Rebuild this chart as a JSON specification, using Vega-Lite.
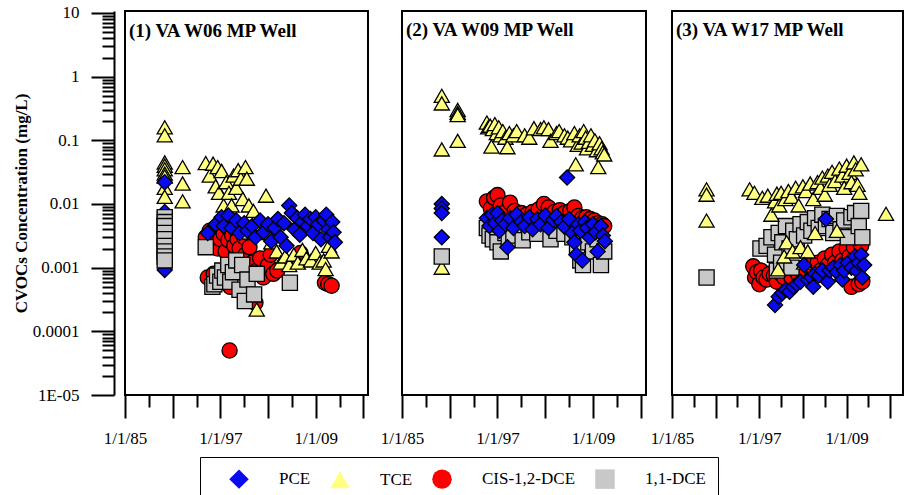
{
  "$schema": "https://vega.github.io/schema/vega-lite/v6.json",
  "background": "white",
  "padding": {"left": 11, "top": 2, "right": 2, "bottom": 2},
  "config": {
    "view": {"stroke": "black", "strokeWidth": 2},
    "font": "Liberation Serif",
    "axis": {"grid": false, "labelColor": "black", "tickColor": "black", "domainColor": "black", "titleColor": "black"}
  },
  "data": {"values": [
    {"well":"W06","compound":"PCE","date":"1990-01-01","conc":0.0075},
    {"well":"W06","compound":"PCE","date":"1990-01-01","conc":0.0025},
    {"well":"W06","compound":"PCE","date":"1990-01-01","conc":0.00092},
    {"well":"W06","compound":"CIS-1,2-DCE","date":"1995-03-01","conc":0.0030},
    {"well":"W06","compound":"CIS-1,2-DCE","date":"1995-06-01","conc":0.0007},
    {"well":"W06","compound":"CIS-1,2-DCE","date":"1995-09-01","conc":0.0038},
    {"well":"W06","compound":"CIS-1,2-DCE","date":"1996-01-01","conc":0.0025},
    {"well":"W06","compound":"CIS-1,2-DCE","date":"1996-03-01","conc":0.0008},
    {"well":"W06","compound":"CIS-1,2-DCE","date":"1996-06-01","conc":0.0035},
    {"well":"W06","compound":"CIS-1,2-DCE","date":"1996-09-01","conc":0.0020},
    {"well":"W06","compound":"CIS-1,2-DCE","date":"1997-01-01","conc":0.0028},
    {"well":"W06","compound":"CIS-1,2-DCE","date":"1997-03-01","conc":0.0006},
    {"well":"W06","compound":"CIS-1,2-DCE","date":"1997-06-01","conc":0.0034},
    {"well":"W06","compound":"CIS-1,2-DCE","date":"1997-09-01","conc":0.0018},
    {"well":"W06","compound":"CIS-1,2-DCE","date":"1998-01-01","conc":0.0027},
    {"well":"W06","compound":"CIS-1,2-DCE","date":"1998-03-01","conc":0.00005},
    {"well":"W06","compound":"CIS-1,2-DCE","date":"1998-04-01","conc":0.0005},
    {"well":"W06","compound":"CIS-1,2-DCE","date":"1998-07-01","conc":0.0032},
    {"well":"W06","compound":"CIS-1,2-DCE","date":"1998-10-01","conc":0.0022},
    {"well":"W06","compound":"CIS-1,2-DCE","date":"1999-01-01","conc":0.0012},
    {"well":"W06","compound":"CIS-1,2-DCE","date":"1999-03-01","conc":0.0028},
    {"well":"W06","compound":"CIS-1,2-DCE","date":"1999-06-01","conc":0.0020},
    {"well":"W06","compound":"CIS-1,2-DCE","date":"1999-09-01","conc":0.0009},
    {"well":"W06","compound":"CIS-1,2-DCE","date":"2000-01-01","conc":0.0030},
    {"well":"W06","compound":"CIS-1,2-DCE","date":"2000-03-01","conc":0.0016},
    {"well":"W06","compound":"CIS-1,2-DCE","date":"2000-06-01","conc":0.0007},
    {"well":"W06","compound":"CIS-1,2-DCE","date":"2000-09-01","conc":0.0021},
    {"well":"W06","compound":"CIS-1,2-DCE","date":"2001-01-01","conc":0.0012},
    {"well":"W06","compound":"CIS-1,2-DCE","date":"2001-06-01","conc":0.00028},
    {"well":"W06","compound":"CIS-1,2-DCE","date":"2001-08-01","conc":0.0009},
    {"well":"W06","compound":"CIS-1,2-DCE","date":"2002-01-01","conc":0.0014},
    {"well":"W06","compound":"CIS-1,2-DCE","date":"2002-06-01","conc":0.0007},
    {"well":"W06","compound":"CIS-1,2-DCE","date":"2003-01-01","conc":0.0011},
    {"well":"W06","compound":"CIS-1,2-DCE","date":"2003-05-01","conc":0.0016},
    {"well":"W06","compound":"CIS-1,2-DCE","date":"2003-09-01","conc":0.0008},
    {"well":"W06","compound":"CIS-1,2-DCE","date":"2004-03-01","conc":0.0009},
    {"well":"W06","compound":"CIS-1,2-DCE","date":"2007-02-01","conc":0.0017},
    {"well":"W06","compound":"CIS-1,2-DCE","date":"2010-03-01","conc":0.00058},
    {"well":"W06","compound":"CIS-1,2-DCE","date":"2010-08-01","conc":0.00055},
    {"well":"W06","compound":"CIS-1,2-DCE","date":"2011-01-01","conc":0.00052},
    {"well":"W06","compound":"1,1-DCE","date":"1990-01-01","conc":0.0062},
    {"well":"W06","compound":"1,1-DCE","date":"1990-01-01","conc":0.0052},
    {"well":"W06","compound":"1,1-DCE","date":"1990-01-01","conc":0.0045},
    {"well":"W06","compound":"1,1-DCE","date":"1990-01-01","conc":0.0035},
    {"well":"W06","compound":"1,1-DCE","date":"1990-01-01","conc":0.0028},
    {"well":"W06","compound":"1,1-DCE","date":"1990-01-01","conc":0.0022},
    {"well":"W06","compound":"1,1-DCE","date":"1990-01-01","conc":0.0018},
    {"well":"W06","compound":"1,1-DCE","date":"1990-01-01","conc":0.0015},
    {"well":"W06","compound":"1,1-DCE","date":"1990-01-01","conc":0.0013},
    {"well":"W06","compound":"1,1-DCE","date":"1995-03-01","conc":0.0021},
    {"well":"W06","compound":"1,1-DCE","date":"1996-01-01","conc":0.0005},
    {"well":"W06","compound":"1,1-DCE","date":"1996-04-01","conc":0.00055},
    {"well":"W06","compound":"1,1-DCE","date":"1996-08-01","conc":0.00075},
    {"well":"W06","compound":"1,1-DCE","date":"1997-01-01","conc":0.0006},
    {"well":"W06","compound":"1,1-DCE","date":"1997-04-01","conc":0.0009},
    {"well":"W06","compound":"1,1-DCE","date":"1997-08-01","conc":0.0007},
    {"well":"W06","compound":"1,1-DCE","date":"1998-01-01","conc":0.0011},
    {"well":"W06","compound":"1,1-DCE","date":"1998-04-01","conc":0.0006},
    {"well":"W06","compound":"1,1-DCE","date":"1998-08-01","conc":0.00085},
    {"well":"W06","compound":"1,1-DCE","date":"1999-01-01","conc":0.0013},
    {"well":"W06","compound":"1,1-DCE","date":"1999-06-01","conc":0.00045},
    {"well":"W06","compound":"1,1-DCE","date":"1999-10-01","conc":0.0011},
    {"well":"W06","compound":"1,1-DCE","date":"2000-02-01","conc":0.0003},
    {"well":"W06","compound":"1,1-DCE","date":"2000-06-01","conc":0.00065},
    {"well":"W06","compound":"1,1-DCE","date":"2000-10-01","conc":0.0037},
    {"well":"W06","compound":"1,1-DCE","date":"2001-04-01","conc":0.00038},
    {"well":"W06","compound":"1,1-DCE","date":"2001-08-01","conc":0.0008},
    {"well":"W06","compound":"1,1-DCE","date":"2005-10-01","conc":0.00058},
    {"well":"W06","compound":"TCE","date":"1990-01-01","conc":0.16},
    {"well":"W06","compound":"TCE","date":"1990-01-01","conc":0.12},
    {"well":"W06","compound":"TCE","date":"1990-01-01","conc":0.045},
    {"well":"W06","compound":"TCE","date":"1990-01-01","conc":0.04},
    {"well":"W06","compound":"TCE","date":"1990-01-01","conc":0.035},
    {"well":"W06","compound":"TCE","date":"1990-01-01","conc":0.03},
    {"well":"W06","compound":"TCE","date":"1990-01-01","conc":0.027},
    {"well":"W06","compound":"TCE","date":"1990-01-01","conc":0.018},
    {"well":"W06","compound":"TCE","date":"1990-01-01","conc":0.013},
    {"well":"W06","compound":"PCE","date":"1990-01-01","conc":0.022},
    {"well":"W06","compound":"TCE","date":"1992-04-01","conc":0.038},
    {"well":"W06","compound":"TCE","date":"1992-04-01","conc":0.021},
    {"well":"W06","compound":"TCE","date":"1992-04-01","conc":0.011},
    {"well":"W06","compound":"TCE","date":"1995-03-01","conc":0.044},
    {"well":"W06","compound":"TCE","date":"1995-09-01","conc":0.028},
    {"well":"W06","compound":"TCE","date":"1996-02-01","conc":0.043},
    {"well":"W06","compound":"TCE","date":"1996-06-01","conc":0.019},
    {"well":"W06","compound":"TCE","date":"1996-09-01","conc":0.038},
    {"well":"W06","compound":"TCE","date":"1996-11-01","conc":0.015},
    {"well":"W06","compound":"TCE","date":"1997-03-01","conc":0.033},
    {"well":"W06","compound":"TCE","date":"1997-06-01","conc":0.0095},
    {"well":"W06","compound":"TCE","date":"1997-10-01","conc":0.022},
    {"well":"W06","compound":"TCE","date":"1998-02-01","conc":0.015},
    {"well":"W06","compound":"TCE","date":"1998-06-01","conc":0.0095},
    {"well":"W06","compound":"TCE","date":"1998-09-01","conc":0.028},
    {"well":"W06","compound":"TCE","date":"1999-01-01","conc":0.018},
    {"well":"W06","compound":"TCE","date":"1999-04-01","conc":0.034},
    {"well":"W06","compound":"TCE","date":"1999-08-01","conc":0.025},
    {"well":"W06","compound":"TCE","date":"1999-11-01","conc":0.012},
    {"well":"W06","compound":"TCE","date":"2000-03-01","conc":0.038},
    {"well":"W06","compound":"TCE","date":"2000-05-01","conc":0.025},
    {"well":"W06","compound":"TCE","date":"2000-08-01","conc":0.0095},
    {"well":"W06","compound":"TCE","date":"2001-03-01","conc":0.0078},
    {"well":"W06","compound":"TCE","date":"2001-08-01","conc":0.00022},
    {"well":"W06","compound":"TCE","date":"2001-06-01","conc":0.0045},
    {"well":"W06","compound":"TCE","date":"2002-10-01","conc":0.0135},
    {"well":"W06","compound":"TCE","date":"2002-04-01","conc":0.0035},
    {"well":"W06","compound":"TCE","date":"2003-06-01","conc":0.0025},
    {"well":"W06","compound":"TCE","date":"2004-02-01","conc":0.0018},
    {"well":"W06","compound":"TCE","date":"2004-08-01","conc":0.0012},
    {"well":"W06","compound":"TCE","date":"2005-03-01","conc":0.0015},
    {"well":"W06","compound":"TCE","date":"2005-09-01","conc":0.0011},
    {"well":"W06","compound":"TCE","date":"2006-04-01","conc":0.0016},
    {"well":"W06","compound":"TCE","date":"2006-10-01","conc":0.0012},
    {"well":"W06","compound":"TCE","date":"2007-05-01","conc":0.0019},
    {"well":"W06","compound":"TCE","date":"2007-11-01","conc":0.0014},
    {"well":"W06","compound":"TCE","date":"2008-06-01","conc":0.0013},
    {"well":"W06","compound":"TCE","date":"2009-01-01","conc":0.0017},
    {"well":"W06","compound":"TCE","date":"2009-07-01","conc":0.0012},
    {"well":"W06","compound":"TCE","date":"2010-01-01","conc":0.0013},
    {"well":"W06","compound":"TCE","date":"2010-04-01","conc":0.00095},
    {"well":"W06","compound":"TCE","date":"2010-09-01","conc":0.0022},
    {"well":"W06","compound":"TCE","date":"2011-01-01","conc":0.0018},
    {"well":"W06","compound":"PCE","date":"1995-06-01","conc":0.0035},
    {"well":"W06","compound":"PCE","date":"1996-06-01","conc":0.0048},
    {"well":"W06","compound":"PCE","date":"1997-03-01","conc":0.0062},
    {"well":"W06","compound":"PCE","date":"1997-06-01","conc":0.0045},
    {"well":"W06","compound":"PCE","date":"1998-01-01","conc":0.0066},
    {"well":"W06","compound":"PCE","date":"1998-06-01","conc":0.0042},
    {"well":"W06","compound":"PCE","date":"1999-01-01","conc":0.0055},
    {"well":"W06","compound":"PCE","date":"1999-06-01","conc":0.0035},
    {"well":"W06","compound":"PCE","date":"2000-01-01","conc":0.0050},
    {"well":"W06","compound":"PCE","date":"2000-06-01","conc":0.0038},
    {"well":"W06","compound":"PCE","date":"2001-01-01","conc":0.0045},
    {"well":"W06","compound":"PCE","date":"2001-06-01","conc":0.0030},
    {"well":"W06","compound":"PCE","date":"2002-01-01","conc":0.0055},
    {"well":"W06","compound":"PCE","date":"2002-06-01","conc":0.0036},
    {"well":"W06","compound":"PCE","date":"2003-01-01","conc":0.0048},
    {"well":"W06","compound":"PCE","date":"2003-06-01","conc":0.0026},
    {"well":"W06","compound":"PCE","date":"2003-11-01","conc":0.0042},
    {"well":"W06","compound":"PCE","date":"2004-04-01","conc":0.0058},
    {"well":"W06","compound":"PCE","date":"2004-08-01","conc":0.0030},
    {"well":"W06","compound":"PCE","date":"2005-01-01","conc":0.0050},
    {"well":"W06","compound":"PCE","date":"2005-05-01","conc":0.0022},
    {"well":"W06","compound":"PCE","date":"2005-09-01","conc":0.0095},
    {"well":"W06","compound":"PCE","date":"2006-01-01","conc":0.0072},
    {"well":"W06","compound":"PCE","date":"2006-05-01","conc":0.0040},
    {"well":"W06","compound":"PCE","date":"2006-09-01","conc":0.0060},
    {"well":"W06","compound":"PCE","date":"2007-01-01","conc":0.0033},
    {"well":"W06","compound":"PCE","date":"2007-05-01","conc":0.0052},
    {"well":"W06","compound":"PCE","date":"2007-09-01","conc":0.0068},
    {"well":"W06","compound":"PCE","date":"2008-01-01","conc":0.0045},
    {"well":"W06","compound":"PCE","date":"2008-05-01","conc":0.0058},
    {"well":"W06","compound":"PCE","date":"2008-09-01","conc":0.0035},
    {"well":"W06","compound":"PCE","date":"2009-01-01","conc":0.0062},
    {"well":"W06","compound":"PCE","date":"2009-05-01","conc":0.0048},
    {"well":"W06","compound":"PCE","date":"2009-09-01","conc":0.0028},
    {"well":"W06","compound":"PCE","date":"2010-01-01","conc":0.0055},
    {"well":"W06","compound":"PCE","date":"2010-05-01","conc":0.0068},
    {"well":"W06","compound":"PCE","date":"2010-08-01","conc":0.0040},
    {"well":"W06","compound":"PCE","date":"2010-11-01","conc":0.0030},
    {"well":"W06","compound":"PCE","date":"2011-02-01","conc":0.0052},
    {"well":"W06","compound":"PCE","date":"2011-04-01","conc":0.0036},
    {"well":"W06","compound":"PCE","date":"2011-06-01","conc":0.0025},

    {"well":"W09","compound":"CIS-1,2-DCE","date":"1995-09-01","conc":0.0110},
    {"well":"W09","compound":"CIS-1,2-DCE","date":"1996-03-01","conc":0.0085},
    {"well":"W09","compound":"CIS-1,2-DCE","date":"1996-08-01","conc":0.0125},
    {"well":"W09","compound":"CIS-1,2-DCE","date":"1997-01-01","conc":0.0138},
    {"well":"W09","compound":"CIS-1,2-DCE","date":"1997-06-01","conc":0.0095},
    {"well":"W09","compound":"CIS-1,2-DCE","date":"1998-01-01","conc":0.0075},
    {"well":"W09","compound":"CIS-1,2-DCE","date":"1998-08-01","conc":0.0105},
    {"well":"W09","compound":"CIS-1,2-DCE","date":"1999-03-01","conc":0.0078},
    {"well":"W09","compound":"CIS-1,2-DCE","date":"2000-01-01","conc":0.0072},
    {"well":"W09","compound":"CIS-1,2-DCE","date":"2000-09-01","conc":0.0068},
    {"well":"W09","compound":"CIS-1,2-DCE","date":"2001-06-01","conc":0.0075},
    {"well":"W09","compound":"CIS-1,2-DCE","date":"2002-03-01","conc":0.0082},
    {"well":"W09","compound":"CIS-1,2-DCE","date":"2002-11-01","conc":0.0100},
    {"well":"W09","compound":"CIS-1,2-DCE","date":"2003-06-01","conc":0.0088},
    {"well":"W09","compound":"CIS-1,2-DCE","date":"2004-03-01","conc":0.0075},
    {"well":"W09","compound":"CIS-1,2-DCE","date":"2004-11-01","conc":0.0080},
    {"well":"W09","compound":"CIS-1,2-DCE","date":"2005-06-01","conc":0.0072},
    {"well":"W09","compound":"CIS-1,2-DCE","date":"2006-03-01","conc":0.0078},
    {"well":"W09","compound":"CIS-1,2-DCE","date":"2006-09-01","conc":0.0088},
    {"well":"W09","compound":"CIS-1,2-DCE","date":"2007-03-01","conc":0.0065},
    {"well":"W09","compound":"CIS-1,2-DCE","date":"2007-09-01","conc":0.0060},
    {"well":"W09","compound":"CIS-1,2-DCE","date":"2008-03-01","conc":0.0062},
    {"well":"W09","compound":"CIS-1,2-DCE","date":"2008-09-01","conc":0.0058},
    {"well":"W09","compound":"CIS-1,2-DCE","date":"2009-03-01","conc":0.0055},
    {"well":"W09","compound":"CIS-1,2-DCE","date":"2009-09-01","conc":0.0050},
    {"well":"W09","compound":"CIS-1,2-DCE","date":"2010-03-01","conc":0.0048},
    {"well":"W09","compound":"CIS-1,2-DCE","date":"2010-06-01","conc":0.0045},
    {"well":"W09","compound":"1,1-DCE","date":"1995-09-01","conc":0.0042},
    {"well":"W09","compound":"1,1-DCE","date":"1996-01-01","conc":0.0032},
    {"well":"W09","compound":"1,1-DCE","date":"1996-06-01","conc":0.0028},
    {"well":"W09","compound":"1,1-DCE","date":"1997-01-01","conc":0.0025},
    {"well":"W09","compound":"1,1-DCE","date":"1997-06-01","conc":0.0018},
    {"well":"W09","compound":"1,1-DCE","date":"1998-01-01","conc":0.0035},
    {"well":"W09","compound":"1,1-DCE","date":"1998-06-01","conc":0.0028},
    {"well":"W09","compound":"1,1-DCE","date":"1999-01-01","conc":0.0032},
    {"well":"W09","compound":"1,1-DCE","date":"2000-03-01","conc":0.0027},
    {"well":"W09","compound":"1,1-DCE","date":"2001-01-01","conc":0.0036},
    {"well":"W09","compound":"1,1-DCE","date":"2002-01-01","conc":0.0034},
    {"well":"W09","compound":"1,1-DCE","date":"2003-09-01","conc":0.0028},
    {"well":"W09","compound":"1,1-DCE","date":"2004-06-01","conc":0.0038},
    {"well":"W09","compound":"1,1-DCE","date":"2005-06-01","conc":0.0034},
    {"well":"W09","compound":"1,1-DCE","date":"2006-06-01","conc":0.0030},
    {"well":"W09","compound":"1,1-DCE","date":"2007-01-01","conc":0.0022},
    {"well":"W09","compound":"1,1-DCE","date":"2007-06-01","conc":0.0013},
    {"well":"W09","compound":"1,1-DCE","date":"2007-10-01","conc":0.0011},
    {"well":"W09","compound":"1,1-DCE","date":"2008-06-01","conc":0.0025},
    {"well":"W09","compound":"1,1-DCE","date":"2009-01-01","conc":0.0018},
    {"well":"W09","compound":"1,1-DCE","date":"2009-08-01","conc":0.0028},
    {"well":"W09","compound":"1,1-DCE","date":"2010-01-01","conc":0.0011},
    {"well":"W09","compound":"1,1-DCE","date":"2010-06-01","conc":0.0018},
    {"well":"W09","compound":"TCE","date":"1990-01-01","conc":0.5},
    {"well":"W09","compound":"TCE","date":"1990-01-01","conc":0.38},
    {"well":"W09","compound":"TCE","date":"1990-01-01","conc":0.072},
    {"well":"W09","compound":"TCE","date":"1990-01-01","conc":0.001},
    {"well":"W09","compound":"1,1-DCE","date":"1990-01-01","conc":0.0015},
    {"well":"W09","compound":"TCE","date":"1992-01-01","conc":0.30},
    {"well":"W09","compound":"TCE","date":"1992-01-01","conc":0.27},
    {"well":"W09","compound":"TCE","date":"1992-01-01","conc":0.25},
    {"well":"W09","compound":"TCE","date":"1992-01-01","conc":0.098},
    {"well":"W09","compound":"TCE","date":"1995-09-01","conc":0.19},
    {"well":"W09","compound":"TCE","date":"1995-11-01","conc":0.16},
    {"well":"W09","compound":"TCE","date":"1996-02-01","conc":0.17},
    {"well":"W09","compound":"TCE","date":"1996-04-01","conc":0.08},
    {"well":"W09","compound":"TCE","date":"1996-06-01","conc":0.15},
    {"well":"W09","compound":"TCE","date":"1996-09-01","conc":0.18},
    {"well":"W09","compound":"TCE","date":"1996-12-01","conc":0.13},
    {"well":"W09","compound":"TCE","date":"1997-03-01","conc":0.16},
    {"well":"W09","compound":"TCE","date":"1997-06-01","conc":0.12},
    {"well":"W09","compound":"TCE","date":"1997-09-01","conc":0.14},
    {"well":"W09","compound":"TCE","date":"1998-01-01","conc":0.11},
    {"well":"W09","compound":"TCE","date":"1998-04-01","conc":0.078},
    {"well":"W09","compound":"TCE","date":"1998-07-01","conc":0.13},
    {"well":"W09","compound":"TCE","date":"1999-01-01","conc":0.12},
    {"well":"W09","compound":"TCE","date":"1999-06-01","conc":0.14},
    {"well":"W09","compound":"TCE","date":"2000-06-01","conc":0.12},
    {"well":"W09","compound":"TCE","date":"2001-01-01","conc":0.11},
    {"well":"W09","compound":"TCE","date":"2001-08-01","conc":0.155},
    {"well":"W09","compound":"TCE","date":"2002-06-01","conc":0.15},
    {"well":"W09","compound":"TCE","date":"2002-11-01","conc":0.16},
    {"well":"W09","compound":"TCE","date":"2003-06-01","conc":0.15},
    {"well":"W09","compound":"TCE","date":"2003-09-01","conc":0.098},
    {"well":"W09","compound":"TCE","date":"2004-06-01","conc":0.13},
    {"well":"W09","compound":"TCE","date":"2004-10-01","conc":0.14},
    {"well":"W09","compound":"TCE","date":"2005-06-01","conc":0.12},
    {"well":"W09","compound":"TCE","date":"2005-11-01","conc":0.11},
    {"well":"W09","compound":"TCE","date":"2006-04-01","conc":0.10},
    {"well":"W09","compound":"TCE","date":"2006-09-01","conc":0.13},
    {"well":"W09","compound":"TCE","date":"2006-11-01","conc":0.042},
    {"well":"W09","compound":"TCE","date":"2007-02-01","conc":0.085},
    {"well":"W09","compound":"TCE","date":"2007-05-01","conc":0.12},
    {"well":"W09","compound":"TCE","date":"2007-08-01","conc":0.092},
    {"well":"W09","compound":"TCE","date":"2007-11-01","conc":0.14},
    {"well":"W09","compound":"TCE","date":"2008-02-01","conc":0.11},
    {"well":"W09","compound":"TCE","date":"2008-04-01","conc":0.075},
    {"well":"W09","compound":"TCE","date":"2008-07-01","conc":0.095},
    {"well":"W09","compound":"TCE","date":"2008-10-01","conc":0.12},
    {"well":"W09","compound":"TCE","date":"2009-01-01","conc":0.085},
    {"well":"W09","compound":"TCE","date":"2009-04-01","conc":0.10},
    {"well":"W09","compound":"TCE","date":"2009-07-01","conc":0.07},
    {"well":"W09","compound":"TCE","date":"2009-09-01","conc":0.038},
    {"well":"W09","compound":"TCE","date":"2009-11-01","conc":0.09},
    {"well":"W09","compound":"TCE","date":"2010-02-01","conc":0.075},
    {"well":"W09","compound":"TCE","date":"2010-04-01","conc":0.065},
    {"well":"W09","compound":"TCE","date":"2010-06-01","conc":0.06},
    {"well":"W09","compound":"PCE","date":"1990-01-01","conc":0.010},
    {"well":"W09","compound":"PCE","date":"1990-01-01","conc":0.0085},
    {"well":"W09","compound":"PCE","date":"1990-01-01","conc":0.0072},
    {"well":"W09","compound":"PCE","date":"1990-01-01","conc":0.003},
    {"well":"W09","compound":"PCE","date":"2005-10-01","conc":0.026},
    {"well":"W09","compound":"PCE","date":"1995-09-01","conc":0.0060},
    {"well":"W09","compound":"PCE","date":"1996-01-01","conc":0.0045},
    {"well":"W09","compound":"PCE","date":"1996-05-01","conc":0.0068},
    {"well":"W09","compound":"PCE","date":"1996-09-01","conc":0.0050},
    {"well":"W09","compound":"PCE","date":"1997-01-01","conc":0.0072},
    {"well":"W09","compound":"PCE","date":"1997-04-01","conc":0.0038},
    {"well":"W09","compound":"PCE","date":"1997-08-01","conc":0.0055},
    {"well":"W09","compound":"PCE","date":"1998-01-01","conc":0.0048},
    {"well":"W09","compound":"PCE","date":"1998-04-01","conc":0.0021},
    {"well":"W09","compound":"PCE","date":"1998-08-01","conc":0.0060},
    {"well":"W09","compound":"PCE","date":"1999-01-01","conc":0.0042},
    {"well":"W09","compound":"PCE","date":"1999-06-01","conc":0.0068},
    {"well":"W09","compound":"PCE","date":"2000-01-01","conc":0.0052},
    {"well":"W09","compound":"PCE","date":"2000-06-01","conc":0.0045},
    {"well":"W09","compound":"PCE","date":"2001-01-01","conc":0.0062},
    {"well":"W09","compound":"PCE","date":"2001-06-01","conc":0.0040},
    {"well":"W09","compound":"PCE","date":"2002-01-01","conc":0.0058},
    {"well":"W09","compound":"PCE","date":"2002-06-01","conc":0.0048},
    {"well":"W09","compound":"PCE","date":"2003-01-01","conc":0.0066},
    {"well":"W09","compound":"PCE","date":"2003-06-01","conc":0.0042},
    {"well":"W09","compound":"PCE","date":"2004-01-01","conc":0.0056},
    {"well":"W09","compound":"PCE","date":"2004-06-01","conc":0.0065},
    {"well":"W09","compound":"PCE","date":"2005-01-01","conc":0.0052},
    {"well":"W09","compound":"PCE","date":"2005-06-01","conc":0.0044},
    {"well":"W09","compound":"PCE","date":"2006-01-01","conc":0.0058},
    {"well":"W09","compound":"PCE","date":"2006-06-01","conc":0.0035},
    {"well":"W09","compound":"PCE","date":"2006-09-01","conc":0.0025},
    {"well":"W09","compound":"PCE","date":"2006-12-01","conc":0.0016},
    {"well":"W09","compound":"PCE","date":"2007-03-01","conc":0.0048},
    {"well":"W09","compound":"PCE","date":"2007-06-01","conc":0.0038},
    {"well":"W09","compound":"PCE","date":"2007-09-01","conc":0.0013},
    {"well":"W09","compound":"PCE","date":"2008-01-01","conc":0.0052},
    {"well":"W09","compound":"PCE","date":"2008-04-01","conc":0.0042},
    {"well":"W09","compound":"PCE","date":"2008-08-01","conc":0.0030},
    {"well":"W09","compound":"PCE","date":"2009-01-01","conc":0.0048},
    {"well":"W09","compound":"PCE","date":"2009-05-01","conc":0.0036},
    {"well":"W09","compound":"PCE","date":"2009-08-01","conc":0.0018},
    {"well":"W09","compound":"PCE","date":"2010-01-01","conc":0.0045},
    {"well":"W09","compound":"PCE","date":"2010-04-01","conc":0.0032},
    {"well":"W09","compound":"PCE","date":"2010-07-01","conc":0.0026},

    {"well":"W17","compound":"CIS-1,2-DCE","date":"1996-03-01","conc":0.00105},
    {"well":"W17","compound":"CIS-1,2-DCE","date":"1996-06-01","conc":0.0007},
    {"well":"W17","compound":"CIS-1,2-DCE","date":"1996-09-01","conc":0.00085},
    {"well":"W17","compound":"CIS-1,2-DCE","date":"1997-01-01","conc":0.00055},
    {"well":"W17","compound":"CIS-1,2-DCE","date":"1997-04-01","conc":0.0009},
    {"well":"W17","compound":"CIS-1,2-DCE","date":"1997-08-01","conc":0.0007},
    {"well":"W17","compound":"CIS-1,2-DCE","date":"1998-01-01","conc":0.00065},
    {"well":"W17","compound":"CIS-1,2-DCE","date":"1998-06-01","conc":0.0008},
    {"well":"W17","compound":"CIS-1,2-DCE","date":"1999-01-01","conc":0.00075},
    {"well":"W17","compound":"CIS-1,2-DCE","date":"1999-06-01","conc":0.0006},
    {"well":"W17","compound":"CIS-1,2-DCE","date":"2000-01-01","conc":0.0008},
    {"well":"W17","compound":"CIS-1,2-DCE","date":"2000-06-01","conc":0.0007},
    {"well":"W17","compound":"CIS-1,2-DCE","date":"2001-01-01","conc":0.00085},
    {"well":"W17","compound":"CIS-1,2-DCE","date":"2001-06-01","conc":0.0007},
    {"well":"W17","compound":"CIS-1,2-DCE","date":"2002-01-01","conc":0.0009},
    {"well":"W17","compound":"CIS-1,2-DCE","date":"2002-06-01","conc":0.00075},
    {"well":"W17","compound":"CIS-1,2-DCE","date":"2003-01-01","conc":0.0010},
    {"well":"W17","compound":"CIS-1,2-DCE","date":"2003-06-01","conc":0.0008},
    {"well":"W17","compound":"CIS-1,2-DCE","date":"2004-01-01","conc":0.0011},
    {"well":"W17","compound":"CIS-1,2-DCE","date":"2004-06-01","conc":0.0009},
    {"well":"W17","compound":"CIS-1,2-DCE","date":"2005-01-01","conc":0.0012},
    {"well":"W17","compound":"CIS-1,2-DCE","date":"2005-06-01","conc":0.0009},
    {"well":"W17","compound":"CIS-1,2-DCE","date":"2006-01-01","conc":0.0014},
    {"well":"W17","compound":"CIS-1,2-DCE","date":"2006-06-01","conc":0.0011},
    {"well":"W17","compound":"CIS-1,2-DCE","date":"2007-01-01","conc":0.0016},
    {"well":"W17","compound":"CIS-1,2-DCE","date":"2007-06-01","conc":0.0012},
    {"well":"W17","compound":"CIS-1,2-DCE","date":"2008-01-01","conc":0.0018},
    {"well":"W17","compound":"CIS-1,2-DCE","date":"2008-06-01","conc":0.0013},
    {"well":"W17","compound":"CIS-1,2-DCE","date":"2009-01-01","conc":0.0020},
    {"well":"W17","compound":"CIS-1,2-DCE","date":"2009-06-01","conc":0.0015},
    {"well":"W17","compound":"CIS-1,2-DCE","date":"2009-09-01","conc":0.0005},
    {"well":"W17","compound":"CIS-1,2-DCE","date":"2010-01-01","conc":0.0021},
    {"well":"W17","compound":"CIS-1,2-DCE","date":"2010-06-01","conc":0.0012},
    {"well":"W17","compound":"CIS-1,2-DCE","date":"2010-09-01","conc":0.00055},
    {"well":"W17","compound":"CIS-1,2-DCE","date":"2011-01-01","conc":0.0022},
    {"well":"W17","compound":"CIS-1,2-DCE","date":"2011-03-01","conc":0.0006},
    {"well":"W17","compound":"1,1-DCE","date":"1989-10-01","conc":0.0007},
    {"well":"W17","compound":"1,1-DCE","date":"1997-03-01","conc":0.0020},
    {"well":"W17","compound":"1,1-DCE","date":"1998-01-01","conc":0.0022},
    {"well":"W17","compound":"1,1-DCE","date":"1998-09-01","conc":0.0030},
    {"well":"W17","compound":"1,1-DCE","date":"1999-03-01","conc":0.0016},
    {"well":"W17","compound":"1,1-DCE","date":"1999-06-01","conc":0.0009},
    {"well":"W17","compound":"1,1-DCE","date":"1999-09-01","conc":0.0035},
    {"well":"W17","compound":"1,1-DCE","date":"2000-01-01","conc":0.0012},
    {"well":"W17","compound":"1,1-DCE","date":"2000-03-01","conc":0.0025},
    {"well":"W17","compound":"1,1-DCE","date":"2000-09-01","conc":0.0045},
    {"well":"W17","compound":"1,1-DCE","date":"2001-03-01","conc":0.0020},
    {"well":"W17","compound":"1,1-DCE","date":"2001-06-01","conc":0.0010},
    {"well":"W17","compound":"1,1-DCE","date":"2001-09-01","conc":0.0038},
    {"well":"W17","compound":"1,1-DCE","date":"2002-03-01","conc":0.0028},
    {"well":"W17","compound":"1,1-DCE","date":"2002-09-01","conc":0.0048},
    {"well":"W17","compound":"1,1-DCE","date":"2003-03-01","conc":0.0032},
    {"well":"W17","compound":"1,1-DCE","date":"2003-09-01","conc":0.0052},
    {"well":"W17","compound":"1,1-DCE","date":"2004-03-01","conc":0.0038},
    {"well":"W17","compound":"1,1-DCE","date":"2004-09-01","conc":0.0060},
    {"well":"W17","compound":"1,1-DCE","date":"2005-03-01","conc":0.0042},
    {"well":"W17","compound":"1,1-DCE","date":"2005-09-01","conc":0.0068},
    {"well":"W17","compound":"1,1-DCE","date":"2006-03-01","conc":0.0045},
    {"well":"W17","compound":"1,1-DCE","date":"2006-09-01","conc":0.0058},
    {"well":"W17","compound":"1,1-DCE","date":"2007-03-01","conc":0.0035},
    {"well":"W17","compound":"1,1-DCE","date":"2007-09-01","conc":0.0065},
    {"well":"W17","compound":"1,1-DCE","date":"2008-03-01","conc":0.0040},
    {"well":"W17","compound":"1,1-DCE","date":"2008-09-01","conc":0.0055},
    {"well":"W17","compound":"1,1-DCE","date":"2009-03-01","conc":0.0030},
    {"well":"W17","compound":"1,1-DCE","date":"2009-09-01","conc":0.0062},
    {"well":"W17","compound":"1,1-DCE","date":"2010-03-01","conc":0.0072},
    {"well":"W17","compound":"1,1-DCE","date":"2010-09-01","conc":0.0045},
    {"well":"W17","compound":"1,1-DCE","date":"2011-01-01","conc":0.0078},
    {"well":"W17","compound":"1,1-DCE","date":"2011-03-01","conc":0.0030},
    {"well":"W17","compound":"TCE","date":"1989-10-01","conc":0.017},
    {"well":"W17","compound":"TCE","date":"1989-10-01","conc":0.014},
    {"well":"W17","compound":"TCE","date":"1989-10-01","conc":0.0055},
    {"well":"W17","compound":"TCE","date":"1995-09-01","conc":0.017},
    {"well":"W17","compound":"TCE","date":"1996-05-01","conc":0.015},
    {"well":"W17","compound":"TCE","date":"1997-06-01","conc":0.0125},
    {"well":"W17","compound":"TCE","date":"1998-03-01","conc":0.0135},
    {"well":"W17","compound":"TCE","date":"1998-09-01","conc":0.0068},
    {"well":"W17","compound":"TCE","date":"1999-03-01","conc":0.011},
    {"well":"W17","compound":"TCE","date":"1999-06-01","conc":0.0145},
    {"well":"W17","compound":"TCE","date":"1999-08-01","conc":0.00094},
    {"well":"W17","compound":"TCE","date":"1999-10-01","conc":0.0095},
    {"well":"W17","compound":"TCE","date":"2000-01-01","conc":0.015},
    {"well":"W17","compound":"TCE","date":"2000-06-01","conc":0.0015},
    {"well":"W17","compound":"TCE","date":"2000-08-01","conc":0.012},
    {"well":"W17","compound":"TCE","date":"2000-10-01","conc":0.0025},
    {"well":"W17","compound":"TCE","date":"2001-01-01","conc":0.016},
    {"well":"W17","compound":"TCE","date":"2001-06-01","conc":0.013},
    {"well":"W17","compound":"TCE","date":"2001-08-01","conc":0.0018},
    {"well":"W17","compound":"TCE","date":"2002-01-01","conc":0.018},
    {"well":"W17","compound":"TCE","date":"2002-06-01","conc":0.0095},
    {"well":"W17","compound":"TCE","date":"2002-09-01","conc":0.0021},
    {"well":"W17","compound":"TCE","date":"2003-01-01","conc":0.019},
    {"well":"W17","compound":"TCE","date":"2003-03-01","conc":0.0012},
    {"well":"W17","compound":"TCE","date":"2003-06-01","conc":0.016},
    {"well":"W17","compound":"TCE","date":"2003-09-01","conc":0.0018},
    {"well":"W17","compound":"TCE","date":"2004-01-01","conc":0.021},
    {"well":"W17","compound":"TCE","date":"2004-06-01","conc":0.012},
    {"well":"W17","compound":"TCE","date":"2004-09-01","conc":0.0035},
    {"well":"W17","compound":"TCE","date":"2005-01-01","conc":0.022},
    {"well":"W17","compound":"TCE","date":"2005-06-01","conc":0.018},
    {"well":"W17","compound":"TCE","date":"2005-09-01","conc":0.026},
    {"well":"W17","compound":"TCE","date":"2006-01-01","conc":0.014},
    {"well":"W17","compound":"TCE","date":"2006-06-01","conc":0.028},
    {"well":"W17","compound":"TCE","date":"2006-09-01","conc":0.020},
    {"well":"W17","compound":"TCE","date":"2007-01-01","conc":0.032},
    {"well":"W17","compound":"TCE","date":"2007-06-01","conc":0.023},
    {"well":"W17","compound":"TCE","date":"2007-09-01","conc":0.0038},
    {"well":"W17","compound":"TCE","date":"2008-01-01","conc":0.036},
    {"well":"W17","compound":"TCE","date":"2008-06-01","conc":0.028},
    {"well":"W17","compound":"TCE","date":"2008-09-01","conc":0.018},
    {"well":"W17","compound":"TCE","date":"2009-01-01","conc":0.040},
    {"well":"W17","compound":"TCE","date":"2009-06-01","conc":0.031},
    {"well":"W17","compound":"TCE","date":"2009-09-01","conc":0.022},
    {"well":"W17","compound":"TCE","date":"2010-01-01","conc":0.045},
    {"well":"W17","compound":"TCE","date":"2010-04-01","conc":0.035},
    {"well":"W17","compound":"TCE","date":"2010-07-01","conc":0.020},
    {"well":"W17","compound":"TCE","date":"2010-10-01","conc":0.015},
    {"well":"W17","compound":"TCE","date":"2011-01-01","conc":0.042},
    {"well":"W17","compound":"TCE","date":"2014-06-01","conc":0.0070},
    {"well":"W17","compound":"PCE","date":"2006-03-01","conc":0.0058},
    {"well":"W17","compound":"PCE","date":"1999-03-01","conc":0.00026},
    {"well":"W17","compound":"PCE","date":"1999-09-01","conc":0.00035},
    {"well":"W17","compound":"PCE","date":"2000-03-01","conc":0.00040},
    {"well":"W17","compound":"PCE","date":"2000-09-01","conc":0.00045},
    {"well":"W17","compound":"PCE","date":"2001-03-01","conc":0.00042},
    {"well":"W17","compound":"PCE","date":"2001-09-01","conc":0.00050},
    {"well":"W17","compound":"PCE","date":"2002-03-01","conc":0.00055},
    {"well":"W17","compound":"PCE","date":"2002-09-01","conc":0.00060},
    {"well":"W17","compound":"PCE","date":"2003-03-01","conc":0.0011},
    {"well":"W17","compound":"PCE","date":"2003-09-01","conc":0.00065},
    {"well":"W17","compound":"PCE","date":"2004-03-01","conc":0.00070},
    {"well":"W17","compound":"PCE","date":"2004-06-01","conc":0.00050},
    {"well":"W17","compound":"PCE","date":"2004-09-01","conc":0.00080},
    {"well":"W17","compound":"PCE","date":"2005-03-01","conc":0.00075},
    {"well":"W17","compound":"PCE","date":"2005-09-01","conc":0.00090},
    {"well":"W17","compound":"PCE","date":"2006-06-01","conc":0.00060},
    {"well":"W17","compound":"PCE","date":"2006-09-01","conc":0.00090},
    {"well":"W17","compound":"PCE","date":"2007-03-01","conc":0.0010},
    {"well":"W17","compound":"PCE","date":"2007-09-01","conc":0.00085},
    {"well":"W17","compound":"PCE","date":"2008-03-01","conc":0.0011},
    {"well":"W17","compound":"PCE","date":"2008-06-01","conc":0.00065},
    {"well":"W17","compound":"PCE","date":"2008-09-01","conc":0.0009},
    {"well":"W17","compound":"PCE","date":"2009-03-01","conc":0.0012},
    {"well":"W17","compound":"PCE","date":"2009-09-01","conc":0.0010},
    {"well":"W17","compound":"PCE","date":"2010-03-01","conc":0.0015},
    {"well":"W17","compound":"PCE","date":"2010-06-01","conc":0.0009},
    {"well":"W17","compound":"PCE","date":"2010-09-01","conc":0.0012},
    {"well":"W17","compound":"PCE","date":"2011-01-01","conc":0.0016},
    {"well":"W17","compound":"PCE","date":"2011-03-01","conc":0.0007},
    {"well":"W17","compound":"PCE","date":"2011-06-01","conc":0.0011}
  ]},
  "bounds": "flush",
  "spacing": 34,
  "hconcat": [
    {
      "width": 243, "height": 384,
      "title": {"text": "(1) VA W06 MP Well", "anchor": "start", "frame": "group", "offset": -37, "dx": 4, "font": "Liberation Serif", "fontSize": 19, "fontWeight": "bold", "color": "black"},
      "transform": [{"filter": "datum.well == 'W06'"}],
      "mark": {"type": "point", "filled": true, "stroke": "black", "strokeWidth": 1.3, "size": 230, "opacity": 1},
      "encoding": {
        "x": {"field": "date", "type": "temporal", "title": null,
          "scale": {"domain": [{"year": 1985, "month": 1, "date": 1}, {"year": 2015, "month": 8, "date": 1}], "nice": false},
          "axis": {"values": [{"year":1985,"month":1,"date":1},{"year":1988,"month":1,"date":1},{"year":1991,"month":1,"date":1},{"year":1994,"month":1,"date":1},{"year":1997,"month":1,"date":1},{"year":2000,"month":1,"date":1},{"year":2003,"month":1,"date":1},{"year":2006,"month":1,"date":1},{"year":2009,"month":1,"date":1},{"year":2012,"month":1,"date":1},{"year":2015,"month":1,"date":1}],
            "domain": false, "tickWidth": 2, "tickColor": "black",
            "tickSize": {"condition": {"test": "year(datum.value) % 6 == 5", "value": 23}, "value": 12},
            "labelExpr": "year(datum.value) % 12 == 5 ? timeFormat(datum.value, '1/1/%y') : ''",
            "labelFont": "Liberation Serif", "labelFontSize": 17, "labelColor": "black", "labelPadding": 12, "labelFlush": false, "labelOverlap": false}},
        "y": {"field": "conc", "type": "quantitative",
          "scale": {"type": "log", "domain": [0.00001, 10.75], "nice": false},
          "axis": {"title": "CVOCs Concentration (mg/L)", "titleFont": "Liberation Serif", "titleFontSize": 17, "titleFontWeight": "bold", "titleColor": "black", "titlePadding": 2,
            "values": [10,9,8,7,6,5,4,3,2,1,0.9,0.8,0.7,0.6,0.5,0.4,0.3,0.2,0.1,0.09,0.08,0.07,0.06,0.05,0.04,0.03,0.02,0.01,0.009,0.008,0.007,0.006,0.005,0.004,0.003,0.002,0.001,0.0009,0.0008,0.0007,0.0006,0.0005,0.0004,0.0003,0.0002,0.0001,0.00009,0.00008,0.00007,0.00006,0.00005,0.00004,0.00003,0.00002,0.00001],
            "tickSize": {"condition": {"test": "indexof([10,1,0.1,0.01,0.001,0.0001,0.00001], datum.value) >= 0", "value": 23}, "value": 12},
            "labelExpr": "datum.value == 0.00001 ? '1E-05' : (indexof([10,1,0.1,0.01,0.001,0.0001], datum.value) >= 0 ? toString(datum.value) : '')",
            "offset": 11, "domain": true, "domainWidth": 2, "domainColor": "black", "tickWidth": 2, "tickColor": "black",
            "labelFont": "Liberation Serif", "labelFontSize": 17, "labelColor": "black", "labelPadding": 12, "labelOverlap": false, "labelFlush": false}},
        "shape": {"field": "compound", "type": "nominal",
          "scale": {"domain": ["PCE", "TCE", "CIS-1,2-DCE", "1,1-DCE"], "range": ["diamond", "triangle-up", "circle", "square"]},
          "legend": {"title": "\u00a0", "titleOrient": "left", "titlePadding": 17, "titleFontSize": 17, "orient": "none", "legendX": 75, "legendY": 446, "direction": "horizontal", "columns": 4, "symbolSize": 380, "symbolStrokeWidth": 0, "labelFont": "Liberation Serif", "labelFontSize": 17, "labelColor": "black", "labelOffset": 30, "columnPadding": 19, "padding": 12, "strokeColor": "black", "fillColor": "white", "labelLimit": 0, "symbolOpacity": 1}},
        "color": {"field": "compound", "type": "nominal",
          "scale": {"domain": ["PCE", "TCE", "CIS-1,2-DCE", "1,1-DCE"], "range": ["#0a0aee", "#ffff80", "#ff0000", "#c8c8c8"]},
          "legend": {"title": "\u00a0", "titleOrient": "left", "titlePadding": 17, "titleFontSize": 17, "orient": "none", "legendX": 75, "legendY": 446, "direction": "horizontal", "columns": 4, "symbolSize": 380, "symbolStrokeWidth": 0, "labelFont": "Liberation Serif", "labelFontSize": 17, "labelColor": "black", "labelOffset": 30, "columnPadding": 19, "padding": 12, "strokeColor": "black", "fillColor": "white", "labelLimit": 0, "symbolOpacity": 1}}
      }
    },
    {
      "bounds": "flush",
      "spacing": 26,
      "hconcat": [
        {
          "width": 244, "height": 384,
          "title": {"text": "(2) VA W09 MP Well", "anchor": "start", "frame": "group", "offset": -29, "dx": 4, "font": "Liberation Serif", "fontSize": 19, "fontWeight": "bold", "color": "black"},
          "transform": [{"filter": "datum.well == 'W09'"}],
          "mark": {"type": "point", "filled": true, "stroke": "black", "strokeWidth": 1.3, "size": 230, "opacity": 1},
          "encoding": {
            "x": {"field": "date", "type": "temporal", "title": null,
              "scale": {"domain": [{"year": 1985, "month": 1, "date": 1}, {"year": 2015, "month": 9, "date": 1}], "nice": false},
              "axis": {"values": [{"year":1985,"month":1,"date":1},{"year":1988,"month":1,"date":1},{"year":1991,"month":1,"date":1},{"year":1994,"month":1,"date":1},{"year":1997,"month":1,"date":1},{"year":2000,"month":1,"date":1},{"year":2003,"month":1,"date":1},{"year":2006,"month":1,"date":1},{"year":2009,"month":1,"date":1},{"year":2012,"month":1,"date":1},{"year":2015,"month":1,"date":1}],
                "domain": false, "tickWidth": 2, "tickColor": "black",
                "tickSize": {"condition": {"test": "year(datum.value) % 6 == 5", "value": 23}, "value": 12},
                "labelExpr": "year(datum.value) % 12 == 5 ? timeFormat(datum.value, '1/1/%y') : ''",
                "labelFont": "Liberation Serif", "labelFontSize": 17, "labelColor": "black", "labelPadding": 12, "labelFlush": false, "labelOverlap": false}},
            "y": {"field": "conc", "type": "quantitative",
              "scale": {"type": "log", "domain": [0.00001, 10.75], "nice": false}, "axis": null},
            "shape": {"field": "compound", "type": "nominal",
              "scale": {"domain": ["PCE", "TCE", "CIS-1,2-DCE", "1,1-DCE"], "range": ["diamond", "triangle-up", "circle", "square"]}},
            "color": {"field": "compound", "type": "nominal",
              "scale": {"domain": ["PCE", "TCE", "CIS-1,2-DCE", "1,1-DCE"], "range": ["#0a0aee", "#ffff80", "#ff0000", "#c8c8c8"]}}
          }
        },
        {
          "width": 231, "height": 384,
          "title": {"text": "(3) VA W17 MP Well", "anchor": "start", "frame": "group", "offset": -29, "dx": 4, "font": "Liberation Serif", "fontSize": 19, "fontWeight": "bold", "color": "black"},
          "transform": [{"filter": "datum.well == 'W17'"}],
          "mark": {"type": "point", "filled": true, "stroke": "black", "strokeWidth": 1.3, "size": 230, "opacity": 1},
          "encoding": {
            "x": {"field": "date", "type": "temporal", "title": null,
              "scale": {"domain": [{"year": 1985, "month": 1, "date": 1}, {"year": 2016, "month": 10, "date": 1}], "nice": false},
              "axis": {"values": [{"year":1985,"month":1,"date":1},{"year":1988,"month":1,"date":1},{"year":1991,"month":1,"date":1},{"year":1994,"month":1,"date":1},{"year":1997,"month":1,"date":1},{"year":2000,"month":1,"date":1},{"year":2003,"month":1,"date":1},{"year":2006,"month":1,"date":1},{"year":2009,"month":1,"date":1},{"year":2012,"month":1,"date":1},{"year":2015,"month":1,"date":1}],
                "domain": false, "tickWidth": 2, "tickColor": "black",
                "tickSize": {"condition": {"test": "year(datum.value) % 6 == 5", "value": 23}, "value": 12},
                "labelExpr": "year(datum.value) % 12 == 5 ? timeFormat(datum.value, '1/1/%y') : ''",
                "labelFont": "Liberation Serif", "labelFontSize": 17, "labelColor": "black", "labelPadding": 12, "labelFlush": false, "labelOverlap": false}},
            "y": {"field": "conc", "type": "quantitative",
              "scale": {"type": "log", "domain": [0.00001, 10.75], "nice": false}, "axis": null},
            "shape": {"field": "compound", "type": "nominal",
              "scale": {"domain": ["PCE", "TCE", "CIS-1,2-DCE", "1,1-DCE"], "range": ["diamond", "triangle-up", "circle", "square"]}},
            "color": {"field": "compound", "type": "nominal",
              "scale": {"domain": ["PCE", "TCE", "CIS-1,2-DCE", "1,1-DCE"], "range": ["#0a0aee", "#ffff80", "#ff0000", "#c8c8c8"]}}
          }
        }
      ]
    }
  ]
}
